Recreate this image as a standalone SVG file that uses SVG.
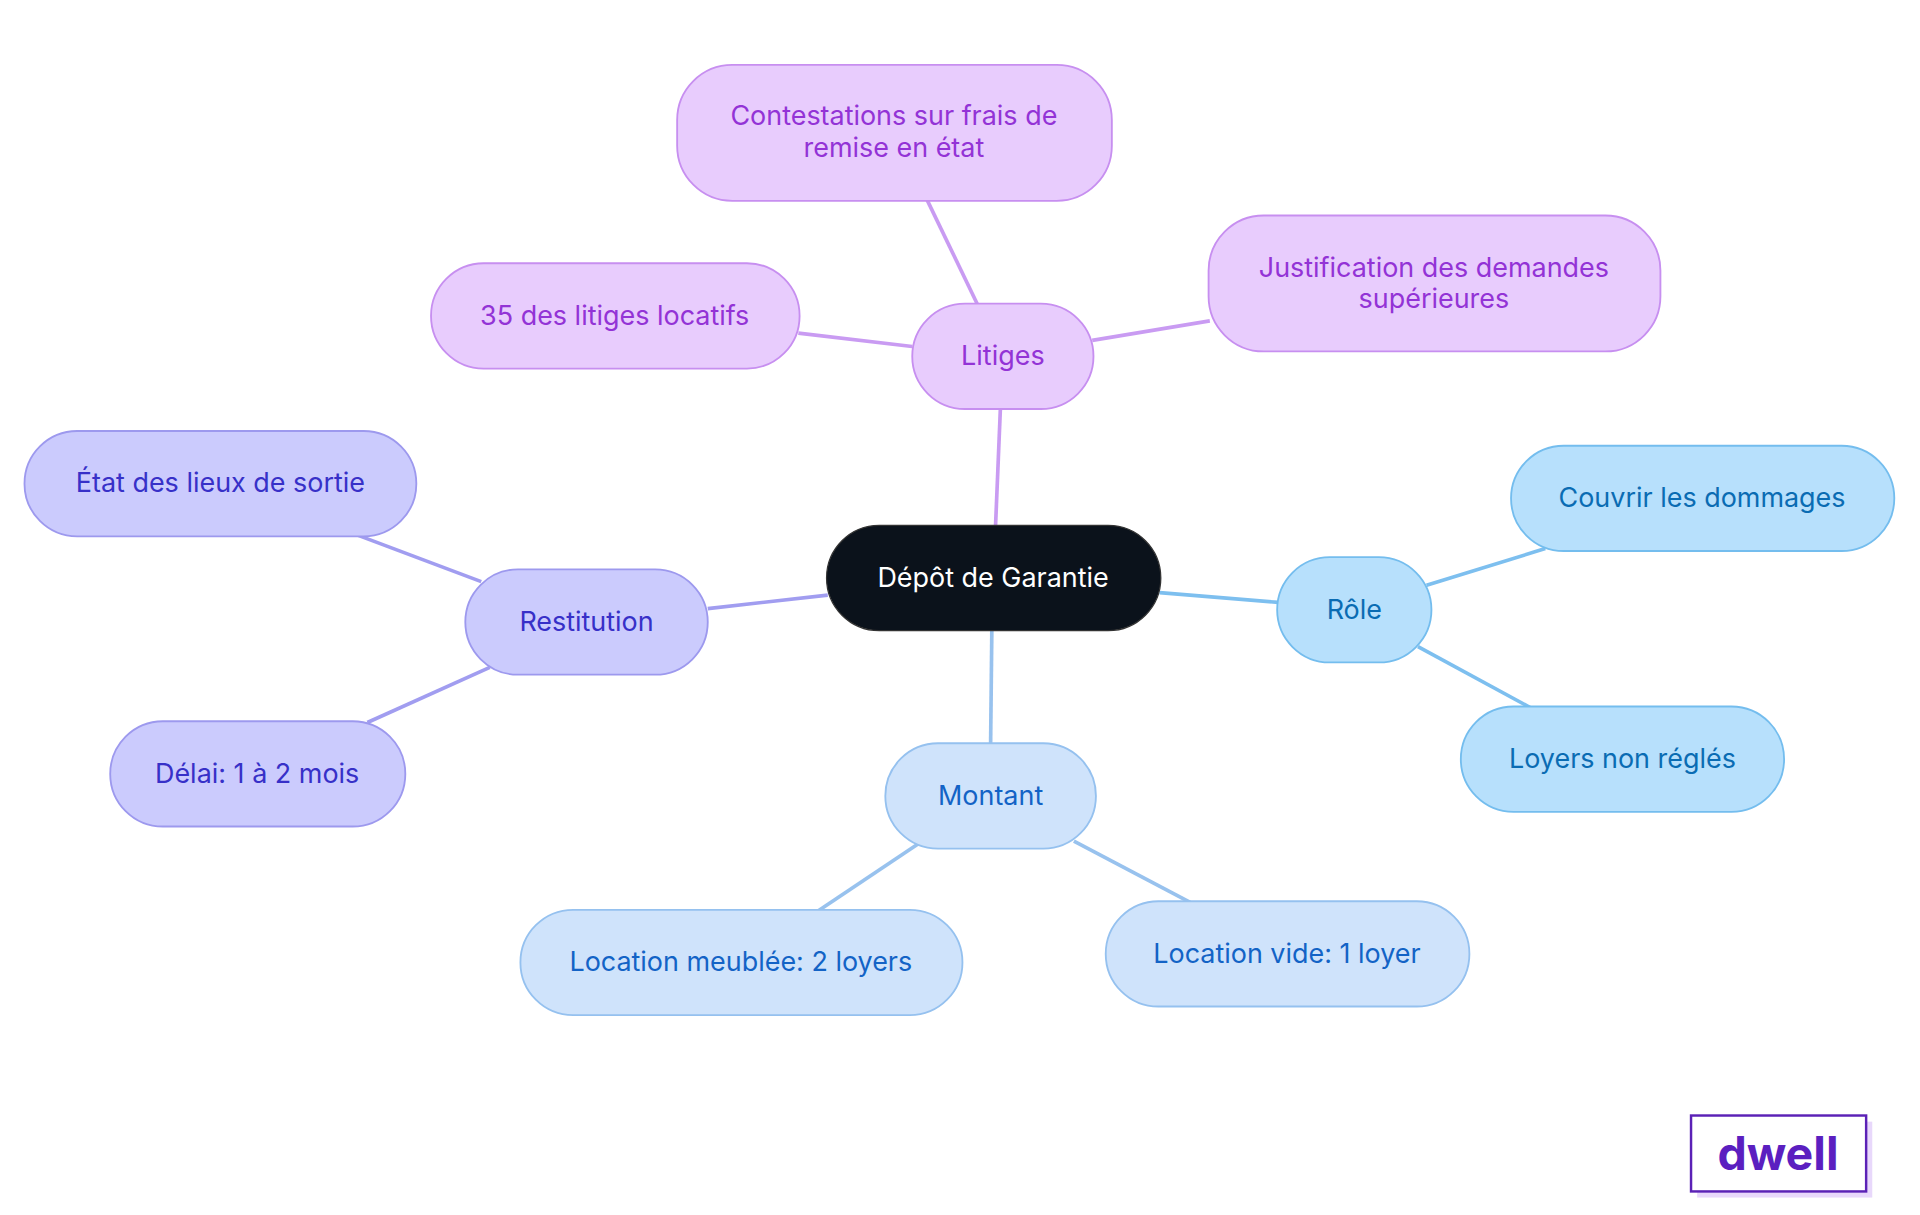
<svg xmlns="http://www.w3.org/2000/svg" width="1920" height="1215" viewBox="0 0 1920 1215">
<style>
text{font-family:"Inter","Noto Sans","Liberation Sans",sans-serif;font-size:22px;text-anchor:middle;dominant-baseline:central}
.p rect{fill:#e8ccfd;stroke:#c78ff0;stroke-width:1.5}.p text{fill:#9333d6}
.v rect{fill:#cbcbfd;stroke:#9d99ee;stroke-width:1.5}.v text{fill:#3730c8}
.b rect{fill:#b7e0fc;stroke:#74bdee;stroke-width:1.5}.b text{fill:#0a6cb3}
.l rect{fill:#cfe3fb;stroke:#95c1ef;stroke-width:1.5}.l text{fill:#1363c6}
#conn line{stroke-width:3}
</style>
<rect width="1920" height="1215" fill="#fff"/>
<g transform="scale(1.2245)">
<g id="conn">
<line x1="817" y1="333" x2="813" y2="430" stroke="#c99bf2"/>
<line x1="798" y1="248" x2="757" y2="163" stroke="#c99bf2"/>
<line x1="745" y1="283" x2="652" y2="272" stroke="#c99bf2"/>
<line x1="892" y1="278" x2="988" y2="262" stroke="#c99bf2"/>
<line x1="676" y1="486" x2="578" y2="497" stroke="#a19df0"/>
<line x1="393" y1="475" x2="292" y2="437" stroke="#a19df0"/>
<line x1="400" y1="545" x2="300" y2="590" stroke="#a19df0"/>
<line x1="947" y1="484" x2="1044" y2="492" stroke="#7dbfef"/>
<line x1="1165" y1="478" x2="1262" y2="448" stroke="#7dbfef"/>
<line x1="1158" y1="528" x2="1250" y2="578" stroke="#7dbfef"/>
<line x1="810" y1="514" x2="809" y2="607" stroke="#98c2ee"/>
<line x1="750" y1="689" x2="668" y2="744" stroke="#98c2ee"/>
<line x1="877" y1="687" x2="972" y2="737" stroke="#98c2ee"/>
</g>
<g id="root"><rect x="675" y="429" width="273" height="86" rx="43" fill="#0b121b" stroke="#333" stroke-width="1"/><text x="811" y="471" fill="#fff">Dépôt de Garantie</text></g>
<g id="litiges" class="p"><rect x="745" y="248" width="148" height="86" rx="43"/><text x="819" y="290">Litiges</text></g>
<g id="contest" class="p"><rect x="553" y="53" width="355" height="111" rx="45"/><text x="730" y="94">Contestations sur frais de</text><text x="730" y="120">remise en état</text></g>
<g id="pct" class="p"><rect x="352" y="215" width="301" height="86" rx="43"/><text x="502" y="257">35 des litiges locatifs</text></g>
<g id="justif" class="p"><rect x="987" y="176" width="369" height="111" rx="45"/><text x="1171" y="218">Justification des demandes</text><text x="1171" y="243">supérieures</text></g>
<g id="restit" class="v"><rect x="380" y="465" width="198" height="86" rx="43"/><text x="479" y="507">Restitution</text></g>
<g id="etat" class="v"><rect x="20" y="352" width="320" height="86" rx="43"/><text x="180" y="394">État des lieux de sortie</text></g>
<g id="delai" class="v"><rect x="90" y="589" width="241" height="86" rx="43"/><text x="210" y="631">Délai: 1 à 2 mois</text></g>
<g id="role" class="b"><rect x="1043" y="455" width="126" height="86" rx="43"/><text x="1106" y="497">Rôle</text></g>
<g id="couvrir" class="b"><rect x="1234" y="364" width="313" height="86" rx="43"/><text x="1390" y="406">Couvrir les dommages</text></g>
<g id="loyers" class="b"><rect x="1193" y="577" width="264" height="86" rx="43"/><text x="1325" y="619">Loyers non réglés</text></g>
<g id="montant" class="l"><rect x="723" y="607" width="172" height="86" rx="43"/><text x="809" y="649">Montant</text></g>
<g id="meub" class="l"><rect x="425" y="743" width="361" height="86" rx="43"/><text x="605" y="785">Location meublée: 2 loyers</text></g>
<g id="vide" class="l"><rect x="903" y="736" width="297" height="86" rx="43"/><text x="1051" y="778">Location vide: 1 loyer</text></g>
<g id="logo"><rect x="1386" y="916" width="143" height="62" fill="#e8d8fb"/><rect x="1381" y="911" width="143" height="62" fill="#fff" stroke="#5b21b6" stroke-width="2"/><text x="1452" y="942" style="font-size:38px;font-weight:700;fill:#5b1fc0">dwell</text></g>
</g>
</svg>
